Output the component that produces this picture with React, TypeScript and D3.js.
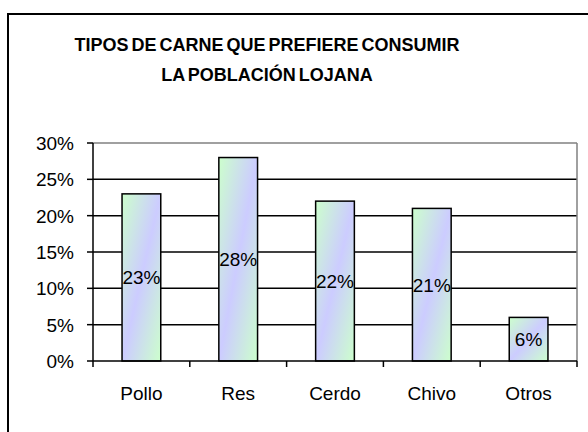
import * as d3 from 'd3';

const categories = ['Pollo', 'Res', 'Cerdo', 'Chivo', 'Otros'];
const values = [0.23, 0.28, 0.22, 0.21, 0.06];
const yTicks = [0, 0.05, 0.1, 0.15, 0.2, 0.25, 0.3];
const titleLines = ['TIPOS DE CARNE QUE PREFIERE CONSUMIR', 'LA POBLACIÓN LOJANA'];

const width = 588;
const height = 432;
const plotLeft = 93;
const plotRight = 577;
const plotTop = 143;
const plotBottom = 361;

const App = (): JSX.Element => {
  const x = d3.scaleBand<string>().domain(categories).range([plotLeft, plotRight]).paddingInner(0.6).paddingOuter(0.3);
  const y = d3.scaleLinear().domain([0, 0.3]).range([plotBottom, plotTop]);
  const pct = d3.format('.0%');
  // category boundaries for the x ticks
  const bounds = d3.range(categories.length + 1).map((i) => plotLeft + ((plotRight - plotLeft) * i) / categories.length);
  const font = '"Liberation Sans", Arial, sans-serif';

  return (
    <svg width={width} height={height} style={{ position: 'absolute', left: 0, top: 0, background: '#fff' }} fontFamily={font}>
      <defs>
        <linearGradient id="barFill" x1="0" y1="0" x2="1" y2="1">
          <stop offset="0" stopColor="#ccffcc" />
          <stop offset="0.5" stopColor="#ccccff" />
          <stop offset="1" stopColor="#ccffcc" />
        </linearGradient>
      </defs>
      <rect x={8} y={14} width={640} height={480} fill="none" stroke="#000" strokeWidth={2} />

      {titleLines.map((t, i) => (
        <text key={t} x={267} y={51 + i * 30} textAnchor="middle" fontWeight="bold" fontSize={18} wordSpacing={-2}>
          {t}
        </text>
      ))}

      {/* grid */}
      {yTicks.slice(1, -1).map((v) => (
        <line key={v} x1={plotLeft} x2={plotRight} y1={y(v)} y2={y(v)} stroke="#000" strokeWidth={1.5} />
      ))}
      <line x1={plotLeft} x2={plotRight} y1={plotTop} y2={plotTop} stroke="#808080" strokeWidth={1.5} />
      <line x1={plotRight} x2={plotRight} y1={plotTop} y2={plotBottom} stroke="#808080" strokeWidth={1.5} />

      {/* bars */}
      {categories.map((c, i) => (
        <g key={c}>
          <rect
            x={x(c)}
            y={y(values[i])}
            width={x.bandwidth()}
            height={plotBottom - y(values[i])}
            fill="url(#barFill)"
            stroke="#000"
            strokeWidth={1.5}
          />
          <text
            x={(x(c) as number) + x.bandwidth() / 2}
            y={(y(values[i]) + plotBottom) / 2 + 7}
            textAnchor="middle"
            fontSize={19}
          >
            {pct(values[i])}
          </text>
        </g>
      ))}

      {/* axes */}
      <line x1={plotLeft} x2={plotLeft} y1={plotTop} y2={plotBottom} stroke="#000" strokeWidth={1.5} />
      <line x1={plotLeft} x2={plotRight} y1={plotBottom} y2={plotBottom} stroke="#000" strokeWidth={1.5} />
      {yTicks.map((v) => (
        <g key={v}>
          <line x1={plotLeft - 6} x2={plotLeft} y1={y(v)} y2={y(v)} stroke="#000" strokeWidth={1.5} />
          <text x={plotLeft - 19} y={y(v) + 7} textAnchor="end" fontSize={19}>
            {pct(v)}
          </text>
        </g>
      ))}
      {bounds.map((b) => (
        <line key={b} x1={b} x2={b} y1={plotBottom} y2={plotBottom + 6} stroke="#000" strokeWidth={1.5} />
      ))}
      {categories.map((c) => (
        <text key={c} x={(x(c) as number) + x.bandwidth() / 2} y={400} textAnchor="middle" fontSize={19}>
          {c}
        </text>
      ))}
    </svg>
  );
};

export default App;
